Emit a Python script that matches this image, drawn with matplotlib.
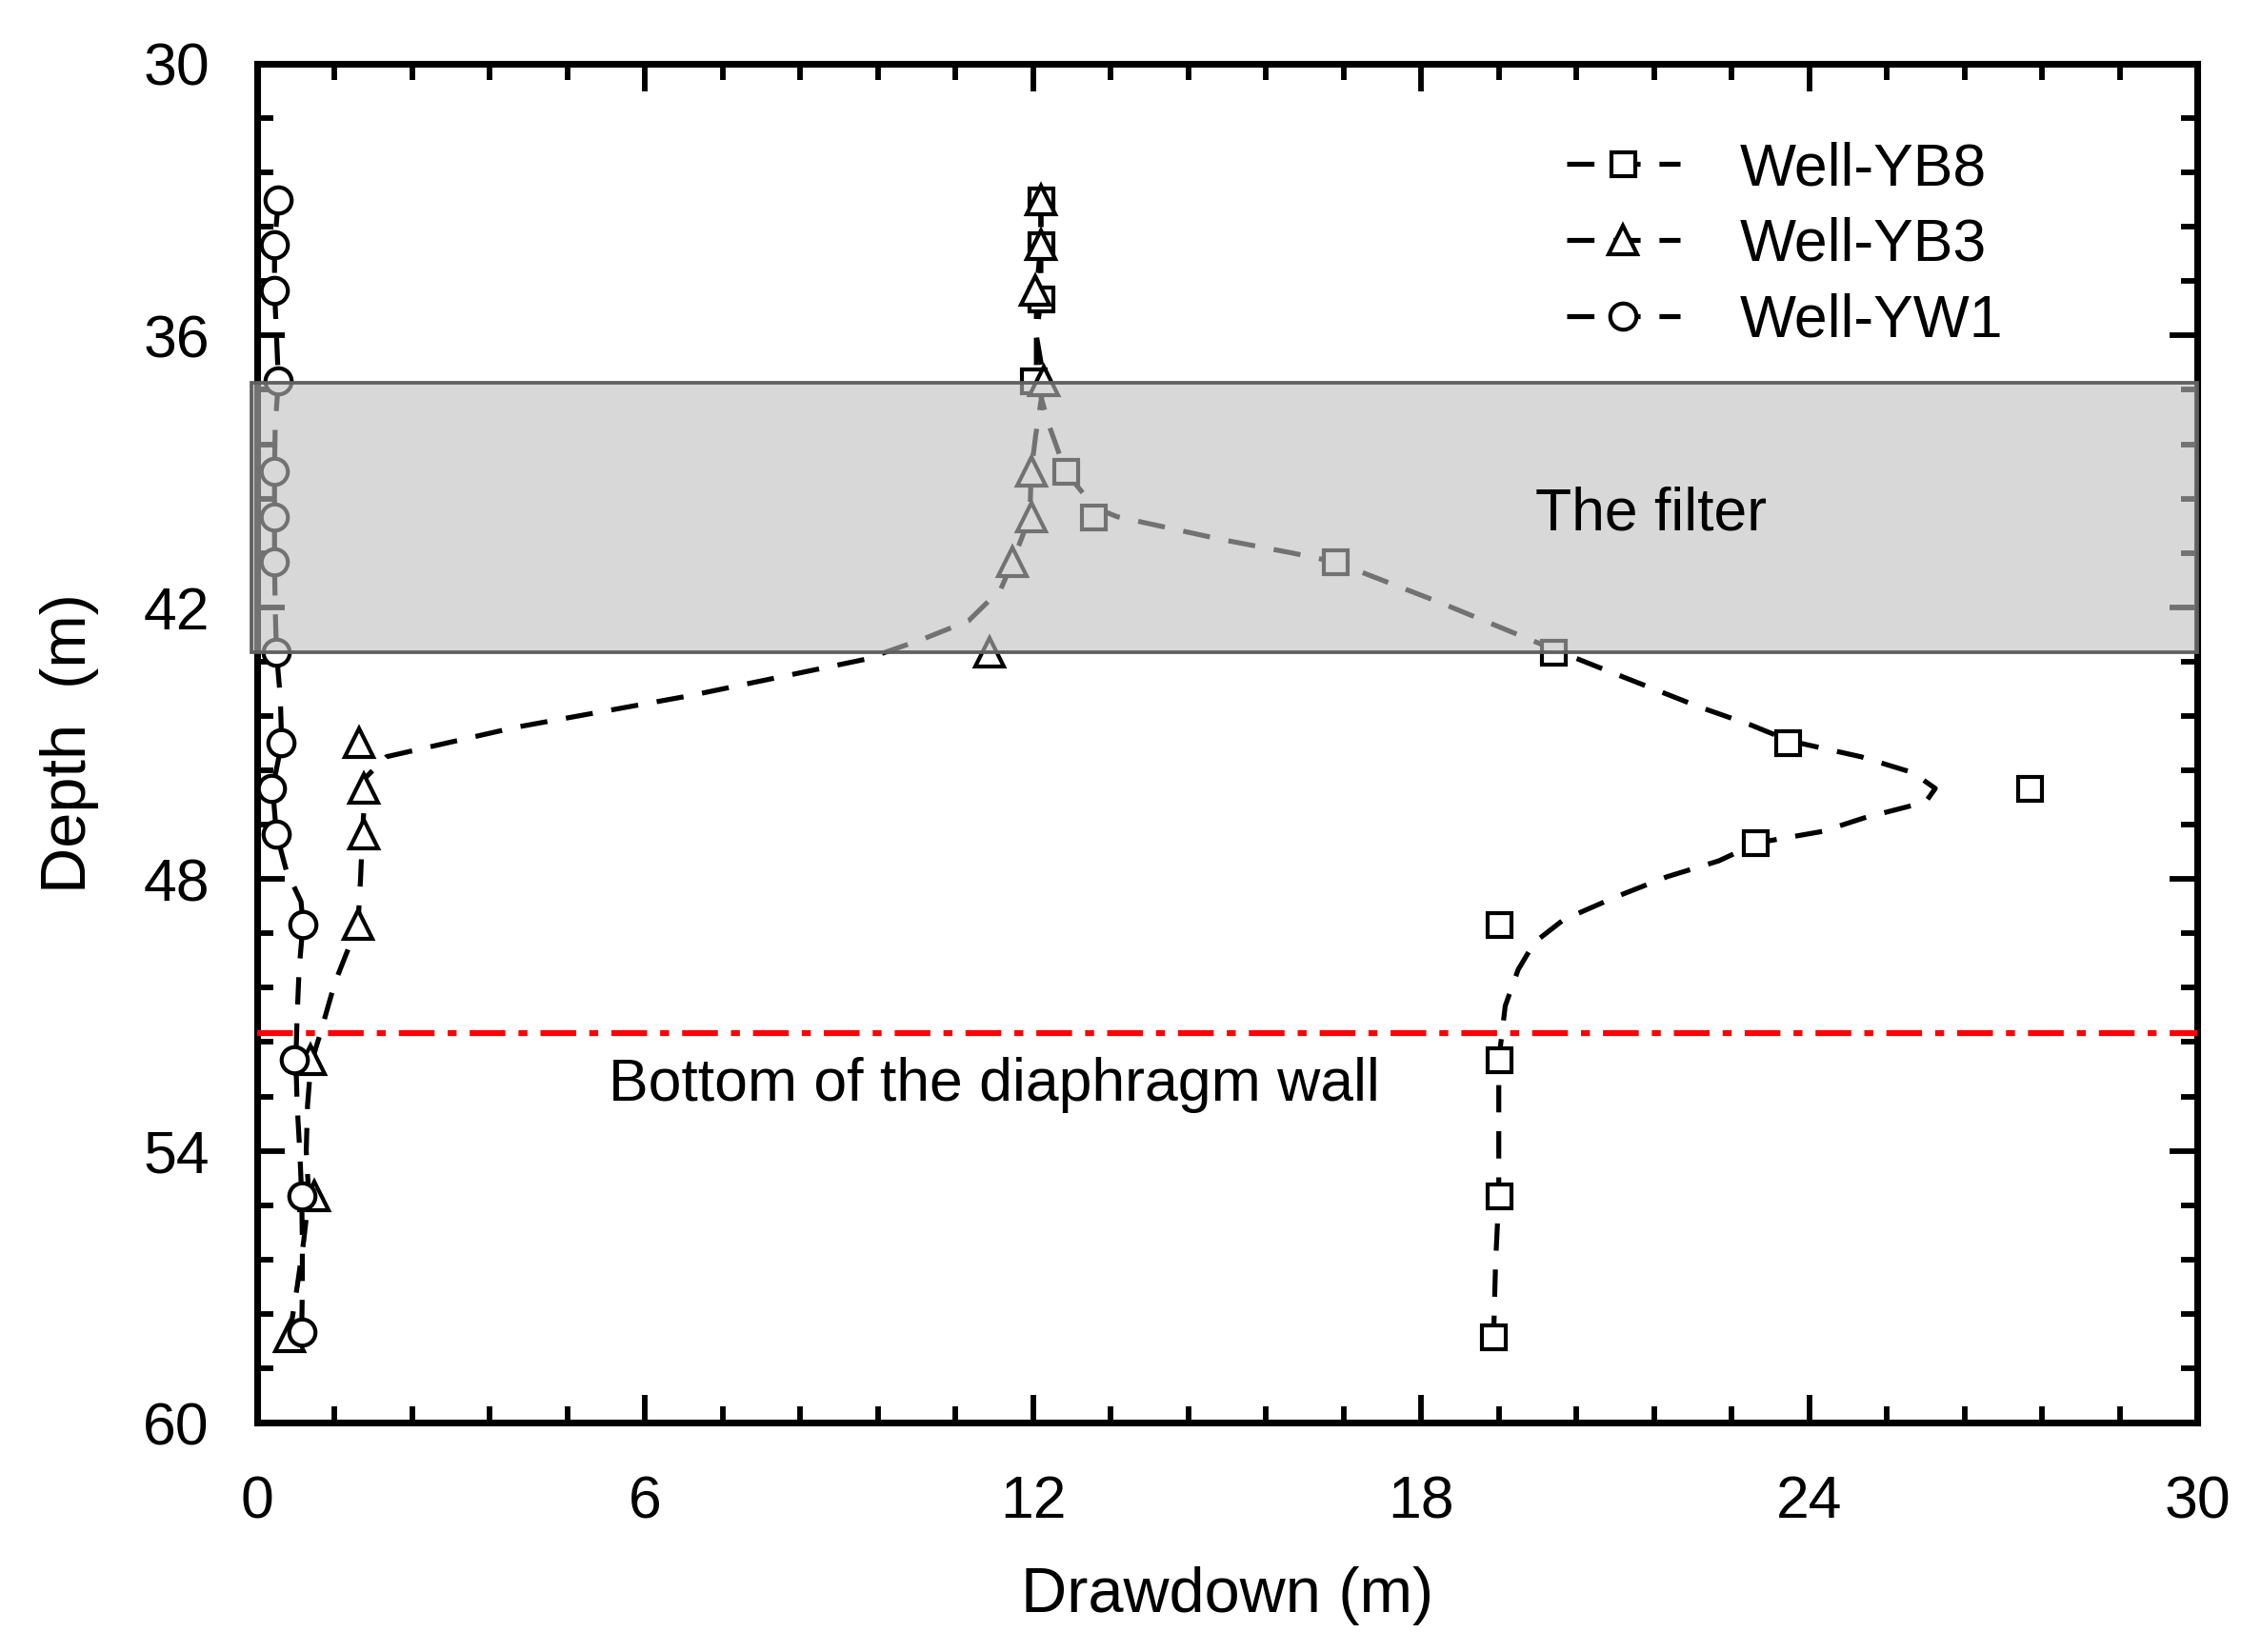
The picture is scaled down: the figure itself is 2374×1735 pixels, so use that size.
import numpy as np
import matplotlib.pyplot as plt
from matplotlib.lines import Line2D
from matplotlib.ticker import MultipleLocator

plt.rcParams['font.family'] = ['Liberation Sans', 'DejaVu Sans']

# measured points (drawdown in m, depth in m)
yb8_depth = [33, 34, 35.2, 37, 39, 40, 41, 43, 45, 46, 47.2, 49, 52, 55, 58.1]
yb8_draw = [12.12, 12.12, 12.12, 12.01, 12.51, 12.93, 16.67, 20.04, 23.66, 27.41, 23.17, 19.21, 19.2, 19.2, 19.12]

yb3_depth = [33, 34, 35, 37, 39, 40, 41, 43, 45, 46, 47, 49, 52, 55, 58.1]
yb3_draw = [12.12, 12.12, 12.03, 12.17, 11.97, 11.97, 11.68, 11.33, 1.58, 1.65, 1.65, 1.56, 0.83, 0.88, 0.5]

yw1_depth = [33, 34, 35, 37, 39, 40, 41, 43, 45, 46, 47, 49, 52, 55, 58]
yw1_draw = [0.33, 0.27, 0.27, 0.33, 0.27, 0.27, 0.27, 0.29, 0.37, 0.22, 0.29, 0.71, 0.58, 0.69, 0.7]

# fitted dashed curves
yb8_fit_depth = [33, 34, 35.2, 36, 37, 38, 39, 39.8, 40.0, 40.25, 40.5, 40.8, 41.0, 41.9, 42.9, 43.3, 43.75,
                 44.2, 44.6, 44.95, 45.3, 45.65, 46.0, 46.3, 46.65, 46.95, 47.2, 47.6, 47.95, 48.4, 48.9,
                 49.4, 50.0, 50.8, 52, 55, 56.5, 58.1]
yb8_fit_draw = [12.12, 12.12, 12.12, 12.05, 12.05, 12.25, 12.5, 12.95, 13.3, 14.1, 14.9, 16.0, 16.67, 18.3, 20.0,
                20.7, 21.5, 22.3, 23.1, 23.7, 24.8, 25.6, 25.95, 25.8, 24.85, 24.2, 23.2, 22.6, 21.8, 21.0,
                20.2, 19.75, 19.5, 19.3, 19.2, 19.2, 19.15, 19.12]

yb3_fit_depth = [33, 34, 35, 36, 37, 38.2, 39, 40, 41, 41.6, 42.3, 42.7, 43.15, 43.95, 44.65, 45.3, 45.8,
                 46.5, 47, 48, 49, 50.3, 51.4, 52.1, 53, 54, 55, 56, 57, 58.1]
yb3_fit_draw = [12.12, 12.12, 12.05, 12.05, 12.17, 12.04, 11.97, 11.95, 11.68, 11.5, 11.0, 10.3, 9.4, 6.7,
                4.0, 2.0, 1.65, 1.65, 1.63, 1.6, 1.56, 1.2, 0.98, 0.83, 0.78, 0.76, 0.8, 0.72, 0.62, 0.5]

yw1_fit_depth = [33, 34, 35, 36, 37, 38, 39, 40, 41, 42, 43, 44, 45, 46, 47, 47.8, 48.5, 49, 50, 51, 52,
                 53, 54, 55, 56, 57, 58]
yw1_fit_draw = [0.33, 0.27, 0.27, 0.3, 0.33, 0.28, 0.27, 0.27, 0.27, 0.28, 0.3, 0.36, 0.38, 0.24, 0.3, 0.45,
                0.68, 0.71, 0.65, 0.62, 0.6, 0.62, 0.66, 0.69, 0.7, 0.7, 0.69]

filter_top, filter_bottom = 37.05, 43.0
wall_bottom = 51.4

fig = plt.figure(figsize=(2374 / 300, 1735 / 300), dpi=300)
ax = fig.add_axes([0.1137, 0.1389, 0.8581, 0.8225])

dash = dict(color='black', lw=1.25, dashes=(5.5, 3.8), zorder=2)
ax.plot(yb8_fit_draw, yb8_fit_depth, **dash)
ax.plot(yb3_fit_draw, yb3_fit_depth, **dash)
ax.plot(yw1_fit_draw, yw1_fit_depth, **dash)

mk = dict(ls='none', mfc='white', mec='black', mew=1.0, zorder=3)
ax.plot(yb8_draw, yb8_depth, marker='s', ms=6.0, **mk)
ax.plot(yb3_draw, yb3_depth, marker='^', ms=7.4, **mk)
ax.plot(yw1_draw, yw1_depth, marker='o', ms=6.6, **mk)

# filter band drawn over the data
ax.axhspan(filter_top, filter_bottom, xmin=-0.003, xmax=1.0, facecolor=(0.75, 0.75, 0.75, 0.6),
           edgecolor='#5f5f5f', lw=0.9, zorder=4, clip_on=False)
ax.text(21.55, 39.95, 'The filter', fontsize=15, ha='center', va='center', zorder=6)

ax.axhline(wall_bottom, color='red', lw=1.5, dashes=(6.0, 2.2, 1.5, 2.2), zorder=5)
ax.text(11.4, 52.55, 'Bottom of the diaphragm wall', fontsize=15, ha='center', va='center', zorder=6)

ax.set_xlim(0, 30)
ax.set_ylim(60, 30)
ax.xaxis.set_major_locator(MultipleLocator(6))
ax.xaxis.set_minor_locator(MultipleLocator(1.2))
ax.yaxis.set_major_locator(MultipleLocator(6))
ax.yaxis.set_minor_locator(MultipleLocator(1.2))
ax.tick_params(which='both', direction='in', top=True, right=True, width=1.4, labelsize=15)
ax.tick_params(which='major', length=7)
ax.tick_params(which='minor', length=4)
ax.tick_params(axis='x', which='major', pad=13)
ax.tick_params(axis='y', which='major', pad=12)
for s in ax.spines.values():
    s.set_linewidth(1.7)

ax.set_xlabel('Drawdown (m)', fontsize=16, labelpad=9)
ax.set_ylabel('Depth  (m)', fontsize=16, labelpad=11)

handles = [
    Line2D([], [], color='black', lw=1.25, dashes=(5.5, 3.8), marker='s', ms=6.0, mfc='white', mec='black', mew=1.0),
    Line2D([], [], color='black', lw=1.25, dashes=(5.5, 3.8), marker='^', ms=7.4, mfc='white', mec='black', mew=1.0),
    Line2D([], [], color='black', lw=1.25, dashes=(5.5, 3.8), marker='o', ms=6.6, mfc='white', mec='black', mew=1.0),
]
ax.legend(handles, ['Well-YB8', 'Well-YB3', 'Well-YW1'], loc='upper left', bbox_to_anchor=(0.675, 0.943),
          frameon=False, fontsize=15, handlelength=1.9, handletextpad=1.0, labelspacing=0.33,
          borderpad=0, borderaxespad=0)

fig.savefig('out.png', dpi=300)
